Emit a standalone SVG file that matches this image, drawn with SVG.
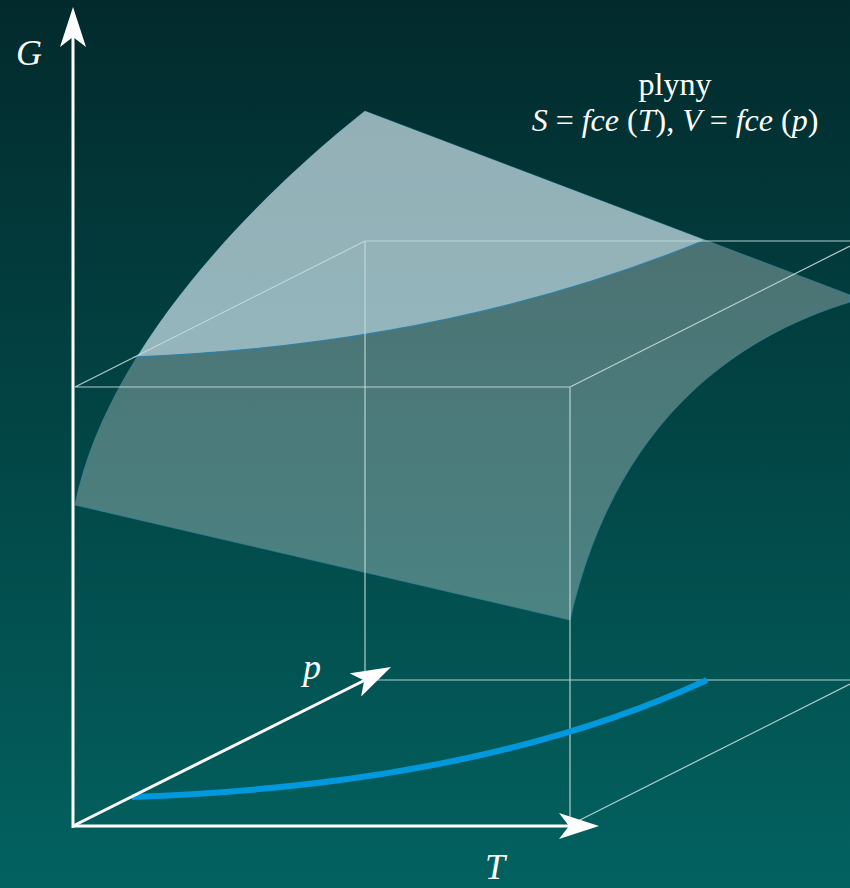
<svg xmlns="http://www.w3.org/2000/svg" width="850" height="888" viewBox="0 0 850 888">
<defs>
<linearGradient id="bg" x1="0" y1="0" x2="0" y2="1">
<stop offset="0" stop-color="#022a2c"/>
<stop offset="1" stop-color="#026260"/>
</linearGradient>
<clipPath id="surfClip">
<path d="M365,111 L850,295 L850,302 C760,330 620,400 570,620 L75,505 C110,330 290,170 365,111 Z"/>
</clipPath>
<marker id="arr" markerUnits="userSpaceOnUse" viewBox="0 0 40 26" refX="10" refY="13" markerWidth="40" markerHeight="26" orient="auto">
<path d="M0,0 L40,13 L0,26 L10,13 Z" fill="#ffffff"/>
</marker>
<style>
.box{fill:none;stroke:#c4dcdc;stroke-width:1.2;opacity:0.9}
.axis{fill:none;stroke:#ffffff;stroke-width:3;marker-end:url(#arr)}
.lbl{font-family:"Liberation Serif",serif;font-style:italic;font-size:36px;fill:#ffffff}
.ttl{font-family:"Liberation Serif",serif;font-size:32px;fill:#ffffff}
.it{font-style:italic}
</style>
</defs>
<rect x="0" y="0" width="850" height="888" fill="url(#bg)"/>
<g id="surface">
<path d="M365,111 L850,295 L850,302 C760,330 620,400 570,620 L75,505 C110,330 290,170 365,111 Z" fill="#ffffff" fill-opacity="0.29" stroke="#3a88a8" stroke-width="1" stroke-opacity="0.6"/>
<path d="M365,111 L705,240 Q450,345 133,357 L0,372 L0,0 Z" fill="#dcf4ff" fill-opacity="0.5" clip-path="url(#surfClip)"/>
<path d="M705,240 Q450,345 133,357" fill="none" stroke="#2f7fa8" stroke-width="1.2"/>
</g>
<g id="box">
<path class="box" d="M75,387 L570,387 L570,825 M75,387 L365,241 L850,241 M570,387 L850,246 M365,241 L365,680 L850,680 M570,825 L850,684"/>
</g>
<g id="curve">
<path d="M132,797 Q480,785 707,680" fill="none" stroke="#0099dd" stroke-width="6"/>
</g>
<g id="connectors">
<line class="axis" x1="73" y1="828" x2="73" y2="37"/>
<line class="axis" x1="72" y1="826" x2="569" y2="826"/>
<line class="axis" x1="75" y1="825" x2="364.2" y2="680.5"/>
</g>
<g id="labels">
<text class="lbl" x="16" y="65">G</text>
<text class="lbl" x="485" y="879">T</text>
<text class="lbl" x="303" y="679">p</text>
<text class="ttl" x="675" y="95" text-anchor="middle">plyny</text>
<text class="ttl" x="675" y="131" text-anchor="middle"><tspan class="it">S</tspan> = <tspan class="it">fce</tspan> (<tspan class="it">T</tspan>), <tspan class="it">V</tspan> = <tspan class="it">fce</tspan> (<tspan class="it">p</tspan>)</text>
</g>
</svg>
